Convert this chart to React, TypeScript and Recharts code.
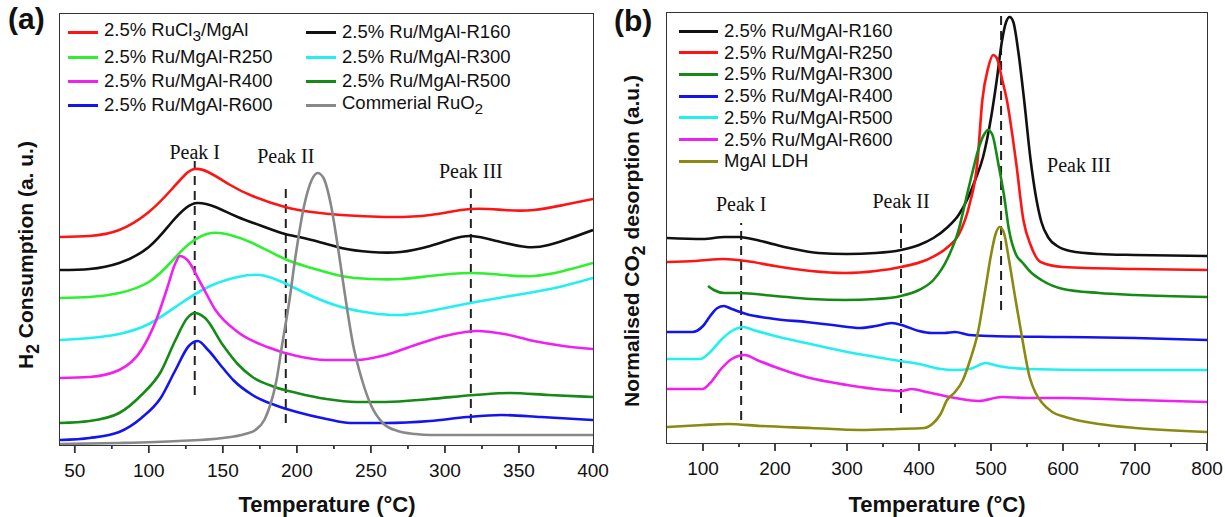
import React from "react";
import { LineChart, Line, XAxis, YAxis, ReferenceLine } from "recharts";

type Pt = [number, number];

// (a) H2-TPR: temperature (°C), H2 consumption (a.u.)
const ruCl3A: Pt[] = [[40, 208], [60, 209], [80, 215], [100, 233], [115, 255], [125, 271], [131, 276], [140, 273], [155, 260], [170, 249], [192, 238], [210, 233], [230, 230], [260, 228], [290, 230], [317, 236], [340, 235], [360, 235], [380, 240], [400, 246]];
const r160A: Pt[] = [[40, 175], [60, 176], [80, 182], [100, 198], [115, 222], [125, 237], [133, 242], [145, 238], [160, 228], [180, 217], [192, 211], [210, 205], [230, 197], [250, 193], [270, 193], [290, 199], [305, 206], [318, 209], [335, 204], [355, 198], [370, 200], [385, 207], [400, 215]];
const r250A: Pt[] = [[40, 147], [60, 148], [80, 152], [100, 163], [115, 183], [128, 202], [142, 212], [155, 210], [170, 202], [192, 186], [210, 177], [230, 169], [250, 166], [270, 166], [290, 169], [317, 172], [340, 170], [360, 169], [380, 174], [400, 182]];
const r300A: Pt[] = [[40, 105], [60, 107], [80, 111], [100, 121], [120, 140], [140, 158], [160, 168], [175, 170], [190, 163], [210, 149], [230, 138], [250, 132], [270, 130], [290, 134], [317, 142], [340, 148], [360, 153], [380, 159], [400, 167]];
const r400A: Pt[] = [[40, 67], [60, 68], [80, 75], [95, 95], [105, 125], [112, 155], [118, 182], [121, 189], [126, 185], [135, 162], [145, 135], [160, 113], [180, 98], [200, 89], [220, 85], [240, 85], [260, 90], [280, 100], [300, 109], [322, 114], [340, 111], [360, 104], [380, 99], [400, 96]];
const r500A: Pt[] = [[40, 22], [60, 24], [80, 32], [95, 50], [108, 73], [118, 105], [126, 127], [131, 132], [138, 127], [150, 100], [160, 81], [170, 68], [185, 58], [200, 52], [220, 46], [240, 43], [260, 43], [290, 46], [320, 50], [344, 52], [370, 50], [400, 48]];
const r600A: Pt[] = [[40, 5], [60, 7], [80, 13], [95, 27], [108, 47], [118, 75], [127, 99], [133, 104], [140, 95], [150, 77], [157, 65], [170, 50], [185, 40], [200, 33], [220, 26], [236, 22], [260, 22], [290, 24], [315, 28], [338, 30], [365, 28], [400, 25]];
const ruO2A: Pt[] = [[40, 1], [80, 2], [120, 4], [150, 7], [165, 11], [172, 15], [178, 25], [182, 40], [186, 63], [190, 100], [195, 145], [199, 188], [205, 240], [210, 265], [214, 272], [218, 267], [223, 240], [228, 195], [233, 145], [238, 100], [244, 65], [250, 40], [258, 22], [268, 14], [280, 11], [290, 10], [400, 10]];

// (b) CO2-TPD: temperature (°C), normalised desorption (a.u.)
const r160B: Pt[] = [[50, 205], [100, 204], [130, 206], [150, 206], [180, 202], [220, 195], [260, 190], [300, 189], [340, 190], [375, 193], [400, 198], [420, 205], [440, 216], [455, 228], [468, 245], [478, 263], [489, 286], [500, 325], [508, 363], [515, 401], [521, 421], [526, 426], [531, 421], [538, 391], [546, 343], [555, 283], [562, 248], [570, 221], [580, 205], [592, 197], [610, 192], [650, 189], [700, 188], [800, 187]];
const r250B: Pt[] = [[50, 181], [90, 182], [129, 184], [160, 182], [200, 177], [250, 172], [297, 170], [340, 172], [375, 176], [410, 183], [440, 196], [455, 208], [470, 238], [481, 280], [488, 343], [496, 375], [503, 388], [508, 385], [515, 365], [522, 343], [535, 280], [545, 223], [555, 198], [569, 181], [600, 176], [700, 174], [800, 173]];
const r300B: Pt[] = [[107, 157], [115, 153], [130, 150], [150, 150], [200, 147], [250, 144], [297, 143], [340, 144], [375, 147], [400, 153], [420, 163], [440, 185], [455, 213], [465, 243], [475, 273], [483, 295], [490, 308], [496, 313], [502, 308], [510, 280], [518, 248], [525, 213], [535, 188], [543, 181], [555, 171], [570, 163], [600, 154], [650, 150], [700, 148], [800, 146]];
const r400B: Pt[] = [[50, 111], [85, 111], [100, 117], [110, 127], [120, 135], [129, 137], [140, 134], [160, 129], [200, 124], [243, 121], [280, 118], [319, 115], [340, 117], [362, 120], [380, 117], [400, 112], [418, 110], [435, 110], [450, 111], [470, 108], [500, 107], [600, 106], [700, 105], [800, 103]];
const r500B: Pt[] = [[50, 84], [96, 84], [110, 91], [125, 103], [140, 112], [156, 116], [170, 113], [200, 107], [243, 100], [300, 91], [340, 86], [374, 82], [400, 79], [430, 74], [450, 73], [470, 74], [493, 80], [510, 77], [550, 74], [650, 73], [800, 73]];
const r600B: Pt[] = [[50, 54], [99, 54], [110, 60], [125, 74], [140, 84], [158, 88], [175, 83], [200, 76], [243, 66], [300, 58], [353, 53], [375, 52], [390, 54], [410, 51], [450, 45], [483, 42], [515, 46], [550, 45], [600, 45], [700, 43], [800, 41]];
const ldhB: Pt[] = [[50, 16], [100, 18], [135, 19], [180, 17], [250, 15], [319, 13], [370, 14], [407, 15], [420, 20], [430, 29], [439, 43], [450, 51], [461, 63], [471, 83], [482, 111], [492, 153], [500, 188], [506, 208], [512, 216], [518, 210], [525, 183], [533, 148], [543, 106], [554, 65], [562, 50], [570, 41], [585, 31], [603, 26], [650, 19], [700, 15], [800, 11]];

const ticksA = [50, 75, 100, 125, 150, 175, 200, 225, 250, 275, 300, 325, 350, 375, 400];
const ticksB = [100, 150, 200, 250, 300, 350, 400, 450, 500, 550, 600, 650, 700, 750, 800];

// dashed peak markers: [label, temperature, from, to, label offset]
const peaksA: [string, number, number, number, number][] = [
  ["Peak I", 131, 50, 285, 1],
  ["Peak II", 192.5, 22, 262, 20],
  ["Peak III", 317.5, 22, 258, 9],
];
const peaksB: [string, number, number, number, number][] = [
  ["Peak I", 153, 23, 220, 12],
  ["Peak II", 375, 30, 225, 10],
  ["", 514, 133, 430, 0],
];

const seriesA = [
  { key: "a1", label: <>2.5% RuCl<sub>3</sub>/MgAl</>, color: "#ff1414", data: ruCl3A, curve: "natural" },
  { key: "a2", label: <>2.5% Ru/MgAl-R160</>, color: "#111111", data: r160A, curve: "natural" },
  { key: "a3", label: <>2.5% Ru/MgAl-R250</>, color: "#2ff02f", data: r250A, curve: "natural" },
  { key: "a4", label: <>2.5% Ru/MgAl-R300</>, color: "#22f0f0", data: r300A, curve: "natural" },
  { key: "a5", label: <>2.5% Ru/MgAl-R400</>, color: "#f020f0", data: r400A, curve: "monotone" },
  { key: "a6", label: <>2.5% Ru/MgAl-R500</>, color: "#168a16", data: r500A, curve: "monotone" },
  { key: "a7", label: <>2.5% Ru/MgAl-R600</>, color: "#1414f0", data: r600A, curve: "monotone" },
  { key: "a8", label: <>Commerial RuO<sub>2</sub></>, color: "#888888", data: ruO2A, curve: "monotone" },
];

const seriesB = [
  { key: "b1", label: "2.5% Ru/MgAl-R160", color: "#111111", data: r160B, curve: "monotone" },
  { key: "b2", label: "2.5% Ru/MgAl-R250", color: "#ff1414", data: r250B, curve: "monotone" },
  { key: "b3", label: "2.5% Ru/MgAl-R300", color: "#168a16", data: r300B, curve: "monotone" },
  { key: "b4", label: "2.5% Ru/MgAl-R400", color: "#1414f0", data: r400B, curve: "monotone" },
  { key: "b5", label: "2.5% Ru/MgAl-R500", color: "#22f0f0", data: r500B, curve: "monotone" },
  { key: "b6", label: "2.5% Ru/MgAl-R600", color: "#f020f0", data: r600B, curve: "monotone" },
  { key: "b7", label: "MgAl LDH", color: "#8a8a12", data: ldhB, curve: "monotone" },
];

const SANS = "'Liberation Sans', Arial, sans-serif";
const SERIF = "'Liberation Serif', 'Times New Roman', serif";
const FRAME = "#333";

const rows = (pts: Pt[]) => pts.map(([t, v]) => ({ t, v }));

const makeTick = (step: number) => (props: any) => {
  const { x, y, payload } = props;
  const major = payload.value % step === 0;
  return (
    <g>
      <line x1={x} x2={x} y1={y} y2={y + (major ? 8 : 4)} stroke={FRAME} strokeWidth={1.8} />
      {major && (
        <text x={x} y={y + 32} textAnchor="middle" fontSize={19} fontFamily={SANS} fill="#111">
          {payload.value}
        </text>
      )}
    </g>
  );
};

function Panel({ series, xDomain, yMax, ticks, step, peaks, width, margin }: any) {
  return (
    <LineChart width={width} height={517} margin={margin}>
      <XAxis
        type="number"
        dataKey="t"
        domain={xDomain}
        ticks={ticks}
        interval={0}
        allowDataOverflow
        axisLine={false}
        tickLine={false}
        tickSize={0}
        tickMargin={0}
        height={30}
        tick={makeTick(step)}
      />
      <YAxis type="number" domain={[0, yMax]} width={0} hide allowDataOverflow />
      {peaks.map(([name, t, y1, y2, off]: any) => (
        <ReferenceLine
          key={name + t}
          segment={[{ x: t, y: y1 }, { x: t, y: y2 }]}
          stroke="#222"
          strokeWidth={2}
          strokeDasharray="9 6"
          label={name ? { value: name, position: "top", offset: off, fontFamily: SERIF, fontSize: 20, fill: "#111" } : undefined}
        />
      ))}
      {series.map((s: any) => (
        <Line
          key={s.key}
          data={rows(s.data)}
          dataKey="v"
          type={s.curve}
          stroke={s.color}
          strokeWidth={2.6}
          dot={false}
          isAnimationActive={false}
        />
      ))}
    </LineChart>
  );
}

const abs = (left: number, top: number): React.CSSProperties => ({ position: "absolute", left, top });

// plot-area box drawn round each panel
function Frame({ x1, y1, x2, y2 }: { x1: number; y1: number; x2: number; y2: number }) {
  const w = 1.6;
  return (
    <div
      style={{
        ...abs(x1 - w / 2, y1 - w / 2),
        width: x2 - x1 + w,
        height: y2 - y1 + w,
        border: `${w}px solid ${FRAME}`,
        boxSizing: "border-box",
        pointerEvents: "none",
      }}
    />
  );
}

function LegendItem({ x, y, len, color, children }: any) {
  return (
    <div style={{ ...abs(x, y - 11), display: "flex", alignItems: "center", height: 22, whiteSpace: "nowrap" }}>
      <div style={{ width: len, height: 3, background: color, marginRight: 6 }} />
      <span style={{ fontFamily: SANS, fontSize: 18.5, color: "#111" }}>{children}</span>
    </div>
  );
}

export default function App() {
  const rowsA = [32, 57, 81, 105];
  return (
    <div style={{ position: "absolute", left: 0, top: 0, width: 1225, height: 517, background: "#fff", overflow: "hidden" }}>
      <div style={abs(0, 0)}>
        <Panel series={seriesA} xDomain={[40, 400]} yMax={431} ticks={ticksA} step={50} peaks={peaksA} width={610}
          margin={{ top: 14, left: 60, right: 17, bottom: 42 }} />
      </div>
      <div style={abs(610, 0)}>
        <Panel series={seriesB} xDomain={[50, 800]} yMax={430} ticks={ticksB} step={100} peaks={peaksB} width={615}
          margin={{ top: 13, left: 57, right: 18, bottom: 44 }} />
      </div>
      <Frame x1={60} y1={14} x2={593} y2={445} />
      <Frame x1={667} y1={13} x2={1207} y2={443} />

      {seriesA.map((s, i) => (
        <LegendItem key={s.key} x={i % 2 === 0 ? 68 : 306} y={rowsA[Math.floor(i / 2)]} len={30} color={s.color}>
          {s.label}
        </LegendItem>
      ))}
      {seriesB.map((s, i) => (
        <LegendItem key={s.key} x={679} y={31 + i * 21.7} len={39} color={s.color}>
          {s.label}
        </LegendItem>
      ))}

      <div style={{ ...abs(1079, 165), transform: "translate(-50%,-50%)", fontFamily: SERIF, fontSize: 20, color: "#111", whiteSpace: "nowrap" }}>
        Peak III
      </div>

      <div style={{ ...abs(8, 2), fontFamily: SANS, fontWeight: 700, fontSize: 30, color: "#111" }}>(a)</div>
      <div style={{ ...abs(614, 4), fontFamily: SANS, fontWeight: 700, fontSize: 30, color: "#111" }}>(b)</div>

      <div style={{ ...abs(327, 505), transform: "translate(-50%,-50%)", fontFamily: SANS, fontWeight: 700, fontSize: 22, color: "#111", whiteSpace: "nowrap" }}>
        Temperature (°C)
      </div>
      <div style={{ ...abs(937, 505), transform: "translate(-50%,-50%)", fontFamily: SANS, fontWeight: 700, fontSize: 22, color: "#111", whiteSpace: "nowrap" }}>
        Temperature (°C)
      </div>
      <div style={{ ...abs(29, 255), transform: "translate(-50%,-50%) rotate(-90deg)", fontFamily: SANS, fontWeight: 700, fontSize: 21, color: "#111", whiteSpace: "nowrap" }}>
        H<sub>2</sub> Consumption (a. u.)
      </div>
      <div style={{ ...abs(635, 241), transform: "translate(-50%,-50%) rotate(-90deg)", fontFamily: SANS, fontWeight: 700, fontSize: 21, color: "#111", whiteSpace: "nowrap" }}>
        Normalised CO<sub>2</sub> desorption (a.u.)
      </div>
    </div>
  );
}
